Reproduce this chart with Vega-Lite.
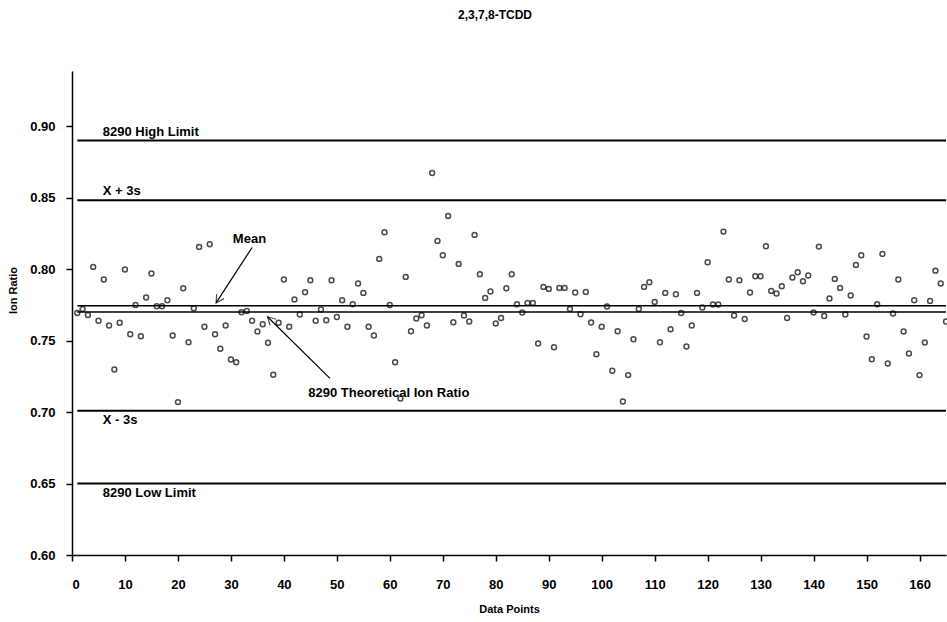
{
 "$schema": "https://vega.github.io/schema/vega-lite/v6.json",
 "width": 874,
 "height": 484,
 "autosize": "none",
 "padding": {"left": 72, "top": 71, "right": 1, "bottom": 67},
 "background": "white",
 "title": {"text": "2,3,7,8-TCDD", "font": "Liberation Sans", "fontSize": 12, "fontWeight": "bold", "anchor": "middle", "offset": 49, "dx": -14, "color": "black"},
 "config": {
  "view": {"stroke": null},
  "axis": {"grid": false, "domainColor": "black", "tickColor": "black", "labelColor": "black", "titleColor": "black", "labelFont": "Liberation Sans", "labelFontWeight": "bold", "labelFontSize": 13, "titleFont": "Liberation Sans", "titleFontWeight": "bold", "titleFontSize": 11, "domainWidth": 1.5, "tickWidth": 1.5, "tickSize": 6}
 },
 "datasets": {
  "points": [
   {"i":1,"r":0.7694},{"i":2,"r":0.7722},{"i":3,"r":0.7680},{"i":4,"r":0.8016},{"i":5,"r":0.7639},{"i":6,"r":0.7928},{"i":7,"r":0.7606},{"i":8,"r":0.7298},{"i":9,"r":0.7625},{"i":10,"r":0.7998},
   {"i":11,"r":0.7545},{"i":12,"r":0.7750},{"i":13,"r":0.7531},{"i":14,"r":0.7802},{"i":15,"r":0.7970},{"i":16,"r":0.7741},{"i":17,"r":0.7741},{"i":18,"r":0.7783},{"i":19,"r":0.7536},{"i":20,"r":0.7070},
   {"i":21,"r":0.7867},{"i":22,"r":0.7489},{"i":23,"r":0.7727},{"i":24,"r":0.8156},{"i":25,"r":0.7597},{"i":26,"r":0.8175},{"i":27,"r":0.7545},{"i":28,"r":0.7443},{"i":29,"r":0.7606},{"i":30,"r":0.7368},
   {"i":31,"r":0.7349},{"i":32,"r":0.7699},{"i":33,"r":0.7708},{"i":34,"r":0.7639},{"i":35,"r":0.7564},{"i":36,"r":0.7615},{"i":37,"r":0.7485},{"i":38,"r":0.7261},{"i":39,"r":0.7625},{"i":40,"r":0.7928},
   {"i":41,"r":0.7597},{"i":42,"r":0.7788},{"i":43,"r":0.7683},{"i":44,"r":0.7839},{"i":45,"r":0.7923},{"i":46,"r":0.7639},{"i":47,"r":0.7718},{"i":48,"r":0.7643},{"i":49,"r":0.7923},{"i":50,"r":0.7666},
   {"i":51,"r":0.7783},{"i":52,"r":0.7597},{"i":53,"r":0.7755},{"i":54,"r":0.7900},{"i":55,"r":0.7834},{"i":56,"r":0.7597},{"i":57,"r":0.7536},{"i":58,"r":0.8072},{"i":59,"r":0.8259},{"i":60,"r":0.7750},
   {"i":61,"r":0.7349},{"i":62,"r":0.7095},{"i":63,"r":0.7946},{"i":64,"r":0.7566},{"i":65,"r":0.7655},{"i":66,"r":0.7678},{"i":67,"r":0.7606},{"i":68,"r":0.8673},{"i":69,"r":0.8198},{"i":70,"r":0.8098},
   {"i":71,"r":0.8373},{"i":72,"r":0.7629},{"i":73,"r":0.8037},{"i":74,"r":0.7676},{"i":75,"r":0.7634},{"i":76,"r":0.8240},{"i":77,"r":0.7965},{"i":78,"r":0.7799},{"i":79,"r":0.7844},{"i":80,"r":0.7620},
   {"i":81,"r":0.7659},{"i":82,"r":0.7867},{"i":83,"r":0.7965},{"i":84,"r":0.7755},{"i":85,"r":0.7697},{"i":86,"r":0.7764},{"i":87,"r":0.7764},{"i":88,"r":0.7480},{"i":89,"r":0.7876},{"i":90,"r":0.7862},
   {"i":91,"r":0.7454},{"i":92,"r":0.7869},{"i":93,"r":0.7869},{"i":94,"r":0.7722},{"i":95,"r":0.7837},{"i":96,"r":0.7685},{"i":97,"r":0.7841},{"i":98,"r":0.7627},{"i":99,"r":0.7405},{"i":100,"r":0.7597},
   {"i":101,"r":0.7739},{"i":102,"r":0.7289},{"i":103,"r":0.7566},{"i":104,"r":0.7074},{"i":105,"r":0.7259},{"i":106,"r":0.7510},{"i":107,"r":0.7722},{"i":108,"r":0.7876},{"i":109,"r":0.7909},{"i":110,"r":0.7771},
   {"i":111,"r":0.7489},{"i":112,"r":0.7834},{"i":113,"r":0.7580},{"i":114,"r":0.7825},{"i":115,"r":0.7694},{"i":116,"r":0.7459},{"i":117,"r":0.7606},{"i":118,"r":0.7834},{"i":119,"r":0.7732},{"i":120,"r":0.8049},
   {"i":121,"r":0.7753},{"i":122,"r":0.7753},{"i":123,"r":0.8263},{"i":124,"r":0.7928},{"i":125,"r":0.7676},{"i":126,"r":0.7923},{"i":127,"r":0.7652},{"i":128,"r":0.7837},{"i":129,"r":0.7951},{"i":130,"r":0.7951},
   {"i":131,"r":0.8161},{"i":132,"r":0.7848},{"i":133,"r":0.7830},{"i":134,"r":0.7881},{"i":135,"r":0.7659},{"i":136,"r":0.7942},{"i":137,"r":0.7979},{"i":138,"r":0.7916},{"i":139,"r":0.7956},{"i":140,"r":0.7697},
   {"i":141,"r":0.8158},{"i":142,"r":0.7673},{"i":143,"r":0.7795},{"i":144,"r":0.7932},{"i":145,"r":0.7869},{"i":146,"r":0.7683},{"i":147,"r":0.7816},{"i":148,"r":0.8030},{"i":149,"r":0.8098},{"i":150,"r":0.7529},
   {"i":151,"r":0.7370},{"i":152,"r":0.7755},{"i":153,"r":0.8107},{"i":154,"r":0.7340},{"i":155,"r":0.7690},{"i":156,"r":0.7928},{"i":157,"r":0.7564},{"i":158,"r":0.7410},{"i":159,"r":0.7783},{"i":160,"r":0.7259},
   {"i":161,"r":0.7487},{"i":162,"r":0.7778},{"i":163,"r":0.7990},{"i":164,"r":0.7900},{"i":165,"r":0.7634}
  ],
  "limits": [
   {"name": "8290 High Limit", "value": 0.89, "side": "above"},
   {"name": "X + 3s", "value": 0.8483, "side": "above"},
   {"name": "X - 3s", "value": 0.7009, "side": "below"},
   {"name": "8290 Low Limit", "value": 0.65, "side": "below"}
  ],
  "centre": [
   {"name": "Mean", "value": 0.7745},
   {"name": "8290 Theoretical Ion Ratio", "value": 0.77}
  ],
  "arrows": [
   {"name": "Mean", "x": 34.0, "y": 0.8152, "x2": 27.2, "y2": 0.7764, "tx": 33.5, "ty": 0.821},
   {"name": "8290 Theoretical Ion Ratio", "x": 48.7, "y": 0.7236, "x2": 36.9, "y2": 0.7667, "tx": 44.6, "ty": 0.7133}
  ]
 },
 "encoding": {
  "x": {"type": "quantitative", "scale": {"domain": [0, 165], "nice": false, "zero": false}, "axis": {"values": [0,10,20,30,40,50,60,70,80,90,100,110,120,130,140,150,160], "title": "Data Points", "labelPadding": 17, "titlePadding": 12}},
  "y": {"type": "quantitative", "scale": {"domain": [0.6, 0.9387], "nice": false, "zero": false}, "axis": {"values": [0.6,0.65,0.7,0.75,0.8,0.85,0.9], "format": ".2f", "title": "Ion Ratio", "labelPadding": 11, "titleX": -59, "titleY": 219, "titleAngle": 270, "titleAlign": "center", "titleBaseline": "middle"}}
 },
 "layer": [
  {
   "data": {"name": "limits"},
   "mark": {"type": "rule", "color": "black", "strokeWidth": 2},
   "encoding": {"x": {"datum": 1}, "x2": {"datum": 165}, "y": {"field": "value"}}
  },
  {
   "data": {"name": "centre"},
   "mark": {"type": "rule", "color": "black", "strokeWidth": 1.5},
   "encoding": {"x": {"datum": 1}, "x2": {"datum": 165}, "y": {"field": "value"}}
  },
  {
   "data": {"name": "limits"},
   "transform": [{"filter": "datum.side == 'above'"}],
   "mark": {"type": "text", "align": "left", "baseline": "bottom", "dy": -2, "font": "Liberation Sans", "fontWeight": "bold", "fontSize": 13, "color": "black"},
   "encoding": {"x": {"datum": 5.8}, "y": {"field": "value"}, "text": {"field": "name"}}
  },
  {
   "data": {"name": "limits"},
   "transform": [{"filter": "datum.side == 'below'"}],
   "mark": {"type": "text", "align": "left", "baseline": "top", "dy": 3, "font": "Liberation Sans", "fontWeight": "bold", "fontSize": 13, "color": "black"},
   "encoding": {"x": {"datum": 5.8}, "y": {"field": "value"}, "text": {"field": "name"}}
  },
  {
   "data": {"name": "arrows"},
   "mark": {"type": "rule", "color": "black", "strokeWidth": 1.2},
   "encoding": {"x": {"field": "x"}, "y": {"field": "y"}, "x2": {"field": "x2"}, "y2": {"field": "y2"}}
  },
  {
   "data": {"name": "arrows"},
   "transform": [{"filter": "datum.name == 'Mean'"}],
   "mark": {"type": "point", "shape": "M -1 -0.55 L 0 0 L -1 0.55", "filled": false, "stroke": "black", "strokeWidth": 1.2, "size": 250, "angle": 122.8},
   "encoding": {"x": {"field": "x2"}, "y": {"field": "y2"}}
  },
  {
   "data": {"name": "arrows"},
   "transform": [{"filter": "datum.name != 'Mean'"}],
   "mark": {"type": "point", "shape": "M -1 -0.55 L 0 0 L -1 0.55", "filled": false, "stroke": "black", "strokeWidth": 1.2, "size": 250, "angle": 224.5},
   "encoding": {"x": {"field": "x2"}, "y": {"field": "y2"}}
  },
  {
   "data": {"name": "arrows"},
   "transform": [{"filter": "datum.name == 'Mean'"}],
   "mark": {"type": "text", "align": "center", "baseline": "middle", "font": "Liberation Sans", "fontWeight": "bold", "fontSize": 13, "color": "black"},
   "encoding": {"x": {"field": "tx"}, "y": {"field": "ty"}, "text": {"field": "name"}}
  },
  {
   "data": {"name": "arrows"},
   "transform": [{"filter": "datum.name != 'Mean'"}],
   "mark": {"type": "text", "align": "left", "baseline": "middle", "font": "Liberation Sans", "fontWeight": "bold", "fontSize": 13, "color": "black"},
   "encoding": {"x": {"field": "tx"}, "y": {"field": "ty"}, "text": {"field": "name"}}
  },
  {
   "data": {"name": "points"},
   "mark": {"type": "point", "shape": "circle", "filled": false, "stroke": "black", "strokeWidth": 1.5, "size": 24, "clip": false},
   "encoding": {"x": {"field": "i", "type": "quantitative"}, "y": {"field": "r", "type": "quantitative"}}
  }
 ]
}
